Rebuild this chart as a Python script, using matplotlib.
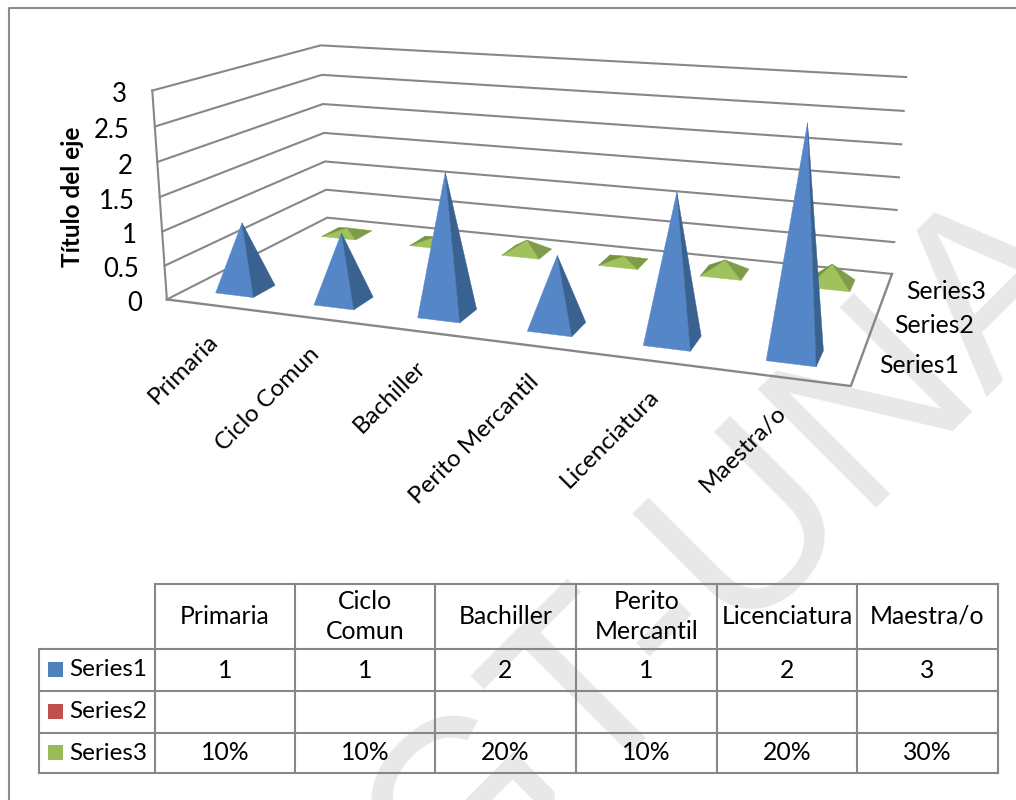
import numpy as np
import matplotlib
matplotlib.use('Agg')
import matplotlib.pyplot as plt
from matplotlib.patches import Polygon, Rectangle

categories = ['Primaria', 'Ciclo Comun', 'Bachiller', 'Perito Mercantil', 'Licenciatura', 'Maestra/o']
table_headers = ['Primaria', 'Ciclo\nComun', 'Bachiller', 'Perito\nMercantil', 'Licenciatura', 'Maestra/o']
series_names = ['Series1', 'Series2', 'Series3']
series1 = [1, 1, 2, 1, 2, 3]
series2 = [None, None, None, None, None, None]
series3 = [0.10, 0.10, 0.20, 0.10, 0.20, 0.30]
y_ticks = [0, 0.5, 1, 1.5, 2, 2.5, 3]
y_tick_labels = ['0', '0.5', '1', '1.5', '2', '2.5', '3']
axis_title = 'Título del eje'
watermark = 'GT-UNA'

FONT = 'Lato'
LINE = '#878787'
# front, right, back, left face colours per series
FACES = {
    0: ['#5587c8', '#3a6291', '#3a6291', '#446fa6'],
    2: ['#9fc25c', '#7f9c48', '#6f8b3c', '#76933f'],
}
SWATCHES = ['#4f81bd', '#c0504d', '#9bbb59']

# chart box as seen on the page: (category, depth, value) -> pixel
BOX_CORNERS = [
    ((0, 0, 0), (167, 299)), ((0, 3, 0), (327, 218)),
    ((6, 3, 0), (892, 274)), ((6, 0, 0), (851, 386)),
    ((0, 0, 3), (152, 91)), ((0, 3, 3), (321, 45)),
    ((6, 3, 3), (906, 77)),
]


def fit_camera(corners):
    rows = []
    for (x, d, z), (u, v) in corners:
        p = [x, d, z, 1]
        rows.append(p + [0, 0, 0, 0] + [-u * c for c in p])
        rows.append([0, 0, 0, 0] + p + [-v * c for c in p])
    _, _, vt = np.linalg.svd(np.array(rows, dtype=float))
    return vt[-1].reshape(3, 4)


CAMERA = fit_camera(BOX_CORNERS)


def project(x, d, z):
    u, v, w = CAMERA @ np.array([x, d, z, 1.0])
    return np.array([u / w, v / w])


def draw_pyramid(ax, x, d, value, half_w, half_d, colors):
    base = [(x - half_w, d - half_d), (x + half_w, d - half_d),
            (x + half_w, d + half_d), (x - half_w, d + half_d)]
    apex = project(x, d, value)
    pts = [project(a, b, 0) for a, b in base]
    # front, right, back, left
    faces = [(pts[0], pts[1]), (pts[1], pts[2]), (pts[2], pts[3]), (pts[3], pts[0])]
    for (p, q), color in zip(faces, colors):
        area = (q[0] - p[0]) * (apex[1] - p[1]) - (q[1] - p[1]) * (apex[0] - p[0])
        if area >= 0:
            continue
        ax.add_patch(Polygon([p, q, apex], closed=True, facecolor=color,
                             edgecolor=color, linewidth=0.3, zorder=4 + 3 - d))


fig = plt.figure(figsize=(10.16, 8.0), dpi=100)
ax = fig.add_axes([0, 0, 1, 1])
ax.set_xlim(0, 1016)
ax.set_ylim(800, 0)
ax.axis('off')

# watermark behind everything
ax.text(449, 923, watermark, fontsize=175, color='#e8e8e8', family='Liberation Sans',
        rotation=45, rotation_mode='anchor', ha='left', va='baseline', zorder=0, clip_on=True)

# page frame
ax.plot([9, 9, 1016], [800, 8, 8], color='#8c8c8c', lw=1.5, zorder=1)

# walls and floor
for z in y_ticks:
    pts = np.array([project(0, 0, z), project(0, 3, z), project(6, 3, z)])
    ax.plot(pts[:, 0], pts[:, 1], color=LINE, lw=1.5, zorder=2)
edge = np.array([project(0, 0, 0), project(0, 0, 3)])
ax.plot(edge[:, 0], edge[:, 1], color=LINE, lw=1.5, zorder=2)
floor = np.array([project(0, 0, 0), project(6, 0, 0), project(6, 3, 0)])
ax.plot(floor[:, 0], floor[:, 1], color=LINE, lw=1.7, zorder=2)

# pyramids, back row first
for row, values in [(2, series3), (1, series2), (0, series1)]:
    for i, value in enumerate(values):
        if value is None:
            continue
        draw_pyramid(ax, i + 0.5, row + 0.5, value, 0.195, 0.19, FACES[row])

# value axis labels
for z, label in zip(y_ticks, y_tick_labels):
    u, v = project(0, 0, z)
    ax.text(u - 25, v + 4, label, fontsize=18.5, family=FONT, ha='right', va='center', zorder=6)
ax.text(72, 197, axis_title, fontsize=17.5, family=FONT, fontweight='bold', rotation=90,
        ha='center', va='center', zorder=6)

# category labels along the front edge
for i, label in enumerate(categories):
    u, v = project(i + 0.5, 0, 0)
    ax.text(u - 1, v + 32, label, fontsize=17.5, family=FONT, rotation=45, rotation_mode='anchor',
            ha='right', va='center', zorder=6)

# depth labels
for row, label in enumerate(series_names):
    u, v = project(6, row + 0.5, 0)
    ax.text(u + 20, v + 2, label, fontsize=17.8, family=FONT, ha='left', va='center', zorder=6)

# data table under the chart
col_x = [155, 295, 435, 576, 717, 857, 998]
row_y = [584, 649, 691, 733, 773]
left_x = 39
for x in col_x:
    ax.plot([x, x], [row_y[0], row_y[-1]], color=LINE, lw=1.5, zorder=3)
ax.plot([left_x, left_x], [row_y[1], row_y[-1]], color=LINE, lw=1.5, zorder=3)
ax.plot([col_x[0], col_x[-1]], [row_y[0], row_y[0]], color=LINE, lw=1.5, zorder=3)
for y in row_y[1:]:
    ax.plot([left_x, col_x[-1]], [y, y], color=LINE, lw=1.5, zorder=3)

for c, header in enumerate(table_headers):
    ax.text((col_x[c] + col_x[c + 1]) / 2, (row_y[0] + row_y[1]) / 2, header, fontsize=17.8,
            family=FONT, ha='center', va='center', linespacing=1.42, zorder=6)

rows = [
    [str(v) for v in series1],
    ['' for v in series2],
    ['{:.0f}%'.format(v * 100) for v in series3],
]
for r, name in enumerate(series_names):
    mid = (row_y[r + 1] + row_y[r + 2]) / 2
    ax.add_patch(Rectangle((48, mid - 8), 15, 15, facecolor=SWATCHES[r], edgecolor='none', zorder=5))
    ax.text(69, mid, name, fontsize=17.5, family=FONT, ha='left', va='center', zorder=6)
    for c, text in enumerate(rows[r]):
        ax.text((col_x[c] + col_x[c + 1]) / 2, mid, text, fontsize=17.8, family=FONT,
                ha='center', va='center', zorder=6)

fig.savefig('out.png', dpi=100)
